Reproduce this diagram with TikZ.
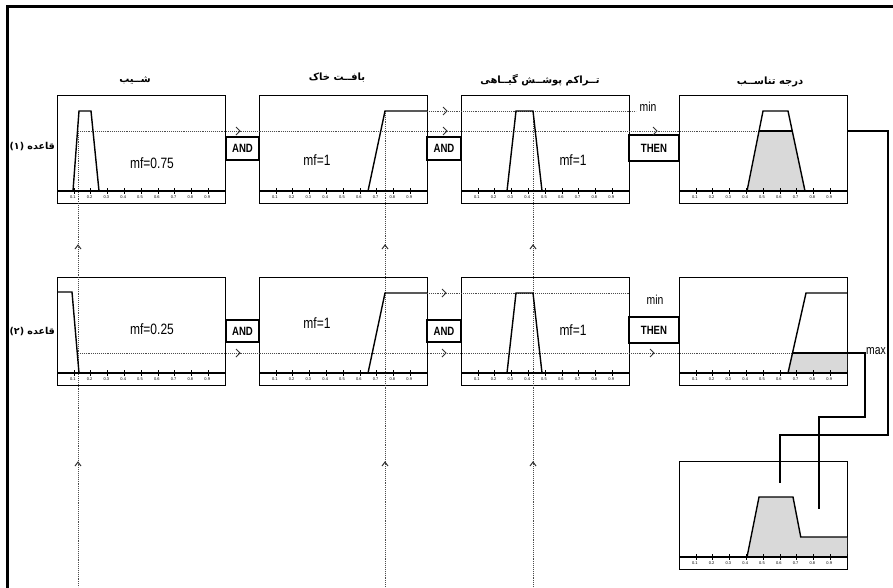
\documentclass[tikz,border=0pt]{standalone}
\usepackage{fontspec}
\setmainfont{Liberation Sans}
\newfontfamily\arabicfont[Script=Arabic]{DejaVu Sans}
\newfontfamily\narrowfont[FakeStretch=0.8]{Liberation Sans}
\TeXXeTstate=1
\definecolor{shadec}{gray}{0.85}
\definecolor{dotc}{gray}{0.3}
\tikzset{
  fbox/.style={draw, line width=1.4pt, rectangle, minimum width=168pt, minimum height=108pt, anchor=north west, inner sep=0pt},
  mfline/.style={line width=1.4pt},
  dotl/.style={dotc, line width=0.9pt, densely dotted},
  chev/.style={black!80, line width=1pt},
  opbox/.style={draw, line width=1.4pt, inner sep=0pt, font=\narrowfont\bfseries\fontsize{12}{12}\selectfont},
  mflab/.style={font=\narrowfont\fontsize{15}{15}\selectfont, inner sep=0pt},
  minlab/.style={font=\narrowfont\fontsize{13}{13}\selectfont, inner sep=0pt},
  head/.style={font=\arabicfont\bfseries\fontsize{10}{10}\selectfont, inner sep=0pt},
  rowlab/.style={font=\arabicfont\bfseries\fontsize{9.5}{9.5}\selectfont, inner sep=0pt, anchor=east},
  tlab/.style={font=\fontsize{4}{4}\selectfont, inner sep=0pt},
}
\newcommand\axisstrip[1]{%
  \begin{scope}[shift={(#1.north west)}]
    \draw[line width=1.1pt] (0,96) -- (168,96);
    \foreach \k in {1,...,9} {
      \draw[line width=0.6pt] (\k*16.8,93) -- (\k*16.8,99);
      \node[tlab] at (\k*16.8-1,102.5) {0.\k};
    }
    \draw[line width=0.6pt] (168,93) -- (168,99);
  \end{scope}}
\newcommand\rchev[2]{\draw[chev] (#1-4,#2-4) -- (#1,#2) -- (#1-4,#2+4);}
\newcommand\uchev[2]{\draw[chev] (#1-3,#2+4) -- (#1,#2) -- (#1+3,#2+4);}
\begin{document}
\begin{tikzpicture}[x=1pt,y=-1pt]
\useasboundingbox (0,0) rectangle (893,587);
\fill[white] (0,0) rectangle (893,587);
% outer frame
\draw[line width=2.7pt] (7.3,590) -- (7.3,6.8) -- (896,6.8);

% boxes
\node[fbox] (b11) at (57,95) {};
\node[fbox] (b12) at (259,95) {};
\node[fbox] (b13) at (461,95) {};
\node[fbox] (b14) at (679,95) {};
\node[fbox] (b21) at (57,277) {};
\node[fbox] (b22) at (259,277) {};
\node[fbox] (b23) at (461,277) {};
\node[fbox] (b24) at (679,277) {};
\node[fbox] (bo) at (679,461) {};

% shaded areas
\begin{scope}[shift={(b14.north west)}]
  \fill[shadec] (68,96) -- (80,36) -- (113.25,36) -- (126,96) -- cycle;
\end{scope}
\begin{scope}[shift={(b24.north west)}]
  \fill[shadec] (109,96) -- (113.5,76) -- (168,76) -- (168,96) -- cycle;
\end{scope}
\begin{scope}[shift={(bo.north west)}]
  \fill[shadec] (68,96) -- (80,36) -- (114,36) -- (121.75,76) -- (168,76) -- (168,96) -- cycle;
\end{scope}

% dotted guide lines
\coordinate (p1) at (78,131);
\coordinate (p2) at (385,111);
\coordinate (p3) at (533,111);
\draw[dotl] (p1) -- (759,131);
\draw[dotl] (427,111) -- (636,111);
\draw[dotl] (78,353) -- (792,353);
\draw[dotl] (427,293) -- (629,293);
\draw[dotl] (p1) -- (78,587);
\draw[dotl] (p2) -- (385,587);
\draw[dotl] (p3) -- (533,587);

% membership functions
\begin{scope}[shift={(b11.north west)}]
  \draw[mfline] (16,96) -- (22,16) -- (34,16) -- (42,96);
\end{scope}
\begin{scope}[shift={(b12.north west)}]
  \draw[mfline] (109,96) -- (126,16) -- (168,16);
\end{scope}
\begin{scope}[shift={(b13.north west)}]
  \draw[mfline] (46,96) -- (55,16) -- (72,16) -- (81,96);
\end{scope}
\begin{scope}[shift={(b14.north west)}]
  \draw[mfline] (68,96) -- (84,16) -- (109,16) -- (126,96);
  \draw[mfline] (80,36) -- (113.25,36);
\end{scope}
\begin{scope}[shift={(b21.north west)}]
  \draw[mfline] (0,15) -- (15,15) -- (22,96);
\end{scope}
\begin{scope}[shift={(b22.north west)}]
  \draw[mfline] (109,96) -- (126,16) -- (168,16);
\end{scope}
\begin{scope}[shift={(b23.north west)}]
  \draw[mfline] (46,96) -- (55,16) -- (72,16) -- (81,96);
\end{scope}
\begin{scope}[shift={(b24.north west)}]
  \draw[mfline] (109,96) -- (127,16) -- (168,16);
  \draw[mfline] (113.5,76) -- (168,76);
\end{scope}
\begin{scope}[shift={(bo.north west)}]
  \draw[mfline] (68,96) -- (80,36) -- (114,36) -- (121.75,76) -- (168,76);
\end{scope}

\axisstrip{b11}\axisstrip{b12}\axisstrip{b13}\axisstrip{b14}
\axisstrip{b21}\axisstrip{b22}\axisstrip{b23}\axisstrip{b24}
\axisstrip{bo}

% operator boxes
\node[opbox, minimum width=33pt, minimum height=23pt] (and11) at (242.5,148.5) {AND};
\node[opbox, minimum width=34pt, minimum height=23pt] (and12) at (444,148.5) {AND};
\node[opbox, minimum width=50pt, minimum height=26pt] (then1) at (654,148) {THEN};
\node[opbox, minimum width=33pt, minimum height=22pt] (and21) at (242.5,331) {AND};
\node[opbox, minimum width=34pt, minimum height=22pt] (and22) at (444,331) {AND};
\node[opbox, minimum width=50pt, minimum height=26pt] (then2) at (654,330) {THEN};

% chevrons
\rchev{240}{131}\rchev{447}{131}\rchev{657}{131}\rchev{447}{111}
\rchev{240}{353}\rchev{446}{353}\rchev{654}{353}\rchev{446}{293}
\uchev{78}{245}\uchev{385}{245}\uchev{533}{245}
\uchev{78}{462}\uchev{385}{462}\uchev{533}{462}

% labels
\node[mflab] (m11) at (152,163) {mf=0.75};
\node[mflab] (m12) at (317,160) {mf=1};
\node[mflab] (m13) at (573,160) {mf=1};
\node[mflab] (m21) at (152,329) {mf=0.25};
\node[mflab] (m22) at (317,323) {mf=1};
\node[mflab] (m23) at (573,330) {mf=1};
\node[minlab] (min1) at (648,107) {min};
\node[minlab] (min2) at (655,300) {min};
\node[minlab, anchor=south west] (max) at (866,355) {max};

\node[head] (h1) at (135,80) {\beginR شــیب\endR};
\node[head] (h2) at (337,78) {\beginR بافــت خاک\endR};
\node[head] (h3) at (540,80) {\beginR تــراکم پوشــش گیــاهی\endR};
\node[head] (h4) at (770,82) {\beginR درجه تناســب\endR};
\node[rowlab] (r1) at (55,147) {\beginR قاعده (۱)\endR};
\node[rowlab] (r2) at (55,332) {\beginR قاعده (۲)\endR};

% aggregation connectors
\coordinate (o1) at (780,483);
\coordinate (o2) at (819,509);
\draw[line width=1.4pt] (b14.east |- p1) -- (888,131) -- (888,435) -| (o1);
\draw[line width=1.4pt] (847,353) -- (865,353) -- (865,417) -| (o2);
\end{tikzpicture}
\end{document}
